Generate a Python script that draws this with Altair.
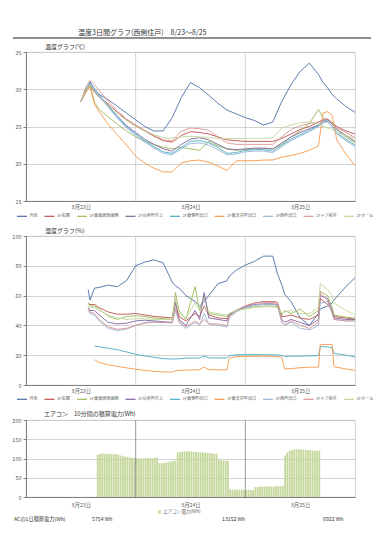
import json
import altair as alt
import pandas as pd

FONT = "Noto Sans CJK JP"
TXT = "#333333"
LBL = "#595959"

# ---------------- text ----------------
main_title = "温度3日間グラフ(西側住戸)　8/23～8/25"
temp_title = "温度グラフ(℃)"
hum_title = "湿度グラフ(%)"
ac_title = "エアコン　10分間の積算電力(Wh)"
ac_series = "エアコン電力(Wh)"
ac_total_label = "ACの1日積算電力(Wh)"
ac_daily_wh = [5754, 13152, 6922]

day_labels = ["8月23日", "8月24日", "8月25日"]
day_label_hours = [12, 36, 60]
day_bounds = [24, 48]

series = ["外気", "1F玄関", "1F東面居西面側", "2F台所吹付上", "2F東側吹出口",
          "2F東天井吹出口", "2F西吹出口", "2Fドア前手", "2Fホール"]
colors = ["#4A6FA5", "#C0504D", "#9BBB59", "#8064A2", "#4BACC6",
          "#F79646", "#95B3D7", "#D99694", "#C3D69B"]

# ---------------- temperature (hours from 8/23 0:00) ----------------
temp_hours = [12, 13, 14, 15, 16, 18, 20, 22, 24, 26, 28, 30, 32, 34, 36, 38, 40, 42,
              44, 46, 48, 50, 52, 54, 56, 58, 60, 62, 64, 65, 66, 67, 68, 70, 72]
t_outside = [28.3, 29.5, 31.0, 30.0, 29.3, 28.6, 27.7, 26.8, 25.9, 25.0, 24.4, 24.4, 26.2, 28.9, 30.9, 30.2, 29.2, 28.1,
             27.2, 26.7, 26.2, 25.8, 25.2, 25.6, 28.4, 30.6, 32.4, 33.5, 32.0, 30.9, 30.2, 29.3, 28.7, 27.7, 26.9]
t_entrance = [28.3, 29.8, 30.5, 29.6, 29.0, 28.0, 26.9, 25.9, 25.1, 24.4, 23.7, 23.1, 22.9, 23.8, 24.3, 24.2, 24.0, 23.6,
              23.2, 23.1, 23.0, 23.0, 23.0, 23.0, 23.4, 24.0, 24.6, 25.0, 25.6, 25.9, 26.0, 25.5, 25.0, 24.4, 24.0]
t_1f_east = [28.3, 29.8, 30.6, 28.2, 27.3, 26.3, 25.3, 24.4, 23.6, 23.0, 22.6, 22.2, 22.0, 22.2, 22.0, 21.8, 23.0, 22.4,
             22.0, 21.8, 21.9, 22.0, 22.0, 22.0, 22.6, 23.6, 24.4, 25.4, 27.3, 26.2, 25.8, 25.4, 24.6, 23.6, 22.8]
t_kitchen = [28.3, 29.9, 30.6, 29.8, 29.0, 27.7, 26.4, 25.1, 24.2, 23.3, 22.6, 22.0, 21.7, 22.6, 23.3, 23.5, 23.2, 22.6,
             22.0, 21.9, 22.0, 22.1, 22.1, 22.0, 22.8, 23.6, 24.2, 24.7, 25.2, 25.8, 25.9, 25.4, 24.6, 23.8, 23.0]
t_2f_east_out = [28.3, 30.0, 30.8, 30.1, 29.2, 27.8, 26.3, 25.0, 24.0, 23.1, 22.3, 21.6, 21.4, 22.2, 23.0, 23.1, 22.8, 22.2,
                 21.4, 21.5, 21.8, 21.9, 21.9, 21.7, 22.5, 23.3, 23.9, 24.5, 25.1, 25.6, 25.7, 25.1, 24.2, 23.3, 22.5]
t_2f_ceiling = [28.3, 29.5, 30.3, 28.0, 27.0, 25.3, 23.9, 22.5, 21.0, 20.1, 19.4, 18.9, 18.9, 20.1, 20.4, 20.5, 20.2, 19.7,
                19.1, 20.4, 20.4, 20.4, 20.5, 20.5, 20.9, 21.1, 21.4, 21.8, 22.4, 26.8, 27.0, 26.5, 23.2, 21.3, 19.8]
t_2f_west_out = [28.3, 30.0, 30.7, 30.0, 29.1, 27.6, 26.1, 24.8, 23.8, 22.9, 22.1, 21.4, 21.2, 22.0, 22.7, 22.8, 22.5, 21.9,
                 21.2, 21.3, 21.6, 21.7, 21.7, 21.5, 22.3, 23.1, 23.7, 24.3, 25.0, 25.5, 25.6, 25.0, 24.0, 23.1, 22.3]
t_2f_door = [28.3, 30.2, 31.2, 30.6, 29.8, 28.4, 27.1, 26.0, 25.2, 24.5, 23.8, 23.2, 23.1, 24.4, 24.8, 24.7, 24.5, 23.6,
             22.8, 22.6, 22.6, 22.6, 22.6, 22.6, 23.6, 24.6, 25.1, 25.4, 25.6, 25.9, 26.0, 25.4, 24.8, 24.2, 23.5]
t_2f_hall = [28.3, 29.8, 30.6, 29.8, 29.0, 27.8, 26.8, 25.8, 25.0, 24.4, 23.9, 23.5, 23.4, 23.6, 23.7, 23.6, 23.5, 23.4,
             23.4, 23.4, 23.4, 23.4, 23.4, 23.5, 24.8, 25.2, 25.5, 25.6, 25.3, 25.0, 24.8, 24.6, 24.2, 23.8, 23.4]

# ---------------- humidity ----------------
hum_hours = [13.6, 14, 15, 16, 18, 20, 22, 24, 26, 28, 30, 32, 32.7, 33.5, 35, 37, 38, 39, 40, 42,
             44, 44.5, 46, 48, 50, 52, 54, 55, 56, 56.6, 58, 60, 62, 64, 64.4, 66, 67, 67.4, 70, 72]
h_outside = [64, 57, 65, 65.5, 67, 66, 70, 80, 82.5, 84, 82, 69, 66.5, 65, 60, 56, 53, 56, 60, 68,
             70, 73, 77, 80.5, 83, 86.5, 86.5, 75, 67, 61, 56, 45, 40, 48, 51, 53, 55, 57, 66, 72]
h_entrance = [55, 54, 54, 52, 49, 47.5, 47.5, 48, 47, 46, 45.5, 45, 55, 46, 43, 48, 46, 53, 47, 45,
              44.5, 47, 50, 53, 55, 56, 56, 55.5, 46, 46, 47, 45, 44, 47, 58, 54, 50, 46, 45, 44]
h_1f_east = [55, 53, 53, 51, 46, 44, 46, 46.5, 46, 45, 44.5, 44, 62, 50, 44, 66, 50, 60, 48, 47,
             46, 48, 50, 51.5, 52.5, 53, 53, 52.5, 47, 50, 48, 51, 46, 50, 63, 60, 52, 47, 45.5, 45]
h_kitchen = [52, 50, 50, 47, 42, 41, 41.5, 43, 43.5, 43, 42.5, 42, 56, 44, 40, 50, 44, 62, 45, 44,
             43, 47, 50, 52.5, 54, 54.5, 54.5, 54, 44, 42, 44, 42, 40, 44, 60, 58, 50, 45, 44, 44]
h_2f_east_out = [None, None, 26.3, 25.7, 24.6, 23.7, 22.2, 20.6, 19.5, 18.6, 17.7, 17.4, 17.5, 17.6, 18.0, 18.1, 18.1, 19.5, 18.2, 18.1,
                 18.1, 19.6, 20.3, 20.4, 20.4, 20.3, 20.3, 20.2, 19.8, 19.2, 19.3, 19.4, 19.5, 19.8, 25.8, 25.5, 25.0, 21.3, 20.0, 18.8]
h_2f_ceiling = [None, None, 17.0, 15.2, 13.5, 12.5, 11.5, 10.6, 9.8, 9.1, 8.8, 8.7, 9.6, 9.9, 10.0, 10.2, 10.3, 12.0, 10.3, 10.2,
                10.2, 18.0, 19.1, 19.2, 19.2, 19.3, 19.2, 19.0, 18.6, 10.8, 11.0, 11.6, 11.9, 12.0, 27.0, 27.3, 27.2, 12.3, 10.8, 9.8]
h_2f_west_out = [50, 48, 47, 43, 38, 36.5, 37.5, 40, 42, 42.5, 42, 41.5, 50, 42, 38, 42, 40, 48, 41, 40,
                 39, 45, 49, 52, 53.5, 54, 54, 53.5, 42, 40, 42, 38, 37, 40, 55, 56, 48, 44, 43, 43]
h_2f_door = [51, 49, 48, 44, 39, 37.5, 38, 40, 41.5, 42, 42, 42, 52, 43, 39, 43, 41, 44, 41, 41,
             40, 46, 50, 53, 55, 55.5, 55.5, 55, 42, 40, 43, 40, 38, 42, 62, 57, 49, 44, 43, 43]
h_2f_hall = [53, 52, 52, 50, 47, 45, 44, 44.5, 44.5, 44, 44, 44, 58, 48, 45, 55, 50, 52, 49, 48,
             47, 48, 50, 51, 52, 52.5, 52.5, 52, 48, 49, 50, 48, 48, 52, 68, 64, 60, 55, 50, 47]

# ---------------- A/C energy per interval (Wh), 30-min steps ----------------
ac_first_hour = 15.5
ac_step_hours = 0.5
ac_wh = [110, 112, 113, 113, 112, 112, 112, 111, 111, 110, 108,
         106, 105, 104, 103, 102, 101,
         101, 100, 100, 100, 100, 101, 101, 101, 102, 102,
         88, 88, 89, 90, 91, 92, 93, 95,
         116, 117, 118, 118, 119, 119, 118, 117, 117, 116, 116, 116, 115, 115, 114, 113, 112, 112,
         96, 95, 95, 94, 94,
         20, 19, 19, 19, 19, 19, 19, 19, 19, 18, 18,
         26, 26, 27, 27, 27, 27, 27, 27, 27, 28, 28, 28, 29,
         108, 116, 120, 122, 123, 124, 124, 124, 123, 122, 122, 121, 121, 120, 120, 120]

# ---------------- tables ----------------
temp_lists = [t_outside, t_entrance, t_1f_east, t_kitchen, t_2f_east_out,
              t_2f_ceiling, t_2f_west_out, t_2f_door, t_2f_hall]
hum_lists = [h_outside, h_entrance, h_1f_east, h_kitchen, h_2f_east_out,
             h_2f_ceiling, h_2f_west_out, h_2f_door, h_2f_hall]


def long_df(hours, lists):
    rows = []
    for i, (name, vals) in enumerate(zip(series, lists)):
        assert len(vals) == len(hours), name
        for h, v in zip(hours, vals):
            if v is not None:
                rows.append({"h": h, "v": v, "series": name, "order": i})
    return pd.DataFrame(rows)


temp_df = long_df(temp_hours, temp_lists)
hum_df = long_df(hum_hours, hum_lists)
ac_df = pd.DataFrame({"h": [ac_first_hour + ac_step_hours * i for i in range(len(ac_wh))], "wh": ac_wh})
ac_df["t1"] = ac_df["h"] + ac_step_hours * 0.78
ac_df["base"] = 0
ac_df["name"] = ac_series
bounds_df = pd.DataFrame({"h": day_bounds})

label_expr = json.dumps(day_labels, ensure_ascii=False) + "[floor(datum.value/24)]"

PLOT_W = 329


def x_enc(pad):
    return alt.X("h:Q", scale=alt.Scale(domain=[0, 72], nice=False, zero=False),
                 axis=alt.Axis(values=day_label_hours, labelExpr=label_expr, title=None, grid=False,
                               ticks=False, domainColor="#7f7f7f", labelFont=FONT, labelFontSize=5.2,
                               labelColor=LBL, labelPadding=pad))


def y_enc(field, domain, vals):
    return alt.Y(field, scale=alt.Scale(domain=domain, nice=False, zero=False),
                 axis=alt.Axis(values=vals, title=None, grid=True, gridColor="#c8c8c8", gridWidth=0.8,
                               tickSize=3, tickColor="#7f7f7f", domainColor="#7f7f7f", labelFont=FONT,
                               labelFontSize=5.5, labelColor=LBL, labelPadding=2,
                               minExtent=17, maxExtent=17))


def series_legend(ly):
    return alt.Legend(title=None, orient="none", legendX=-10, legendY=ly, direction="horizontal",
                      columns=9, symbolType="stroke", symbolSize=100, symbolStrokeWidth=1.2,
                      labelFont=FONT, labelFontSize=4.1, labelColor=LBL, labelOffset=1.5,
                      columnPadding=3.5, padding=0)


def text_layer(text, x, y, size, color=TXT):
    return alt.Chart(pd.DataFrame({"t": [text]})).mark_text(
        font=FONT, fontSize=size, align="left", baseline="middle", color=color
    ).encode(text="t:N", x=alt.value(x), y=alt.value(y))


def line_panel(df, domain, yvals, subtitle, ly, extra=None):
    rules = alt.Chart(bounds_df).mark_rule(color="#c8c8c8", strokeWidth=0.8).encode(x=x_enc(3))
    lines = alt.Chart(df).mark_line(strokeWidth=0.9).encode(
        x=x_enc(3),
        y=y_enc("v:Q", domain, yvals),
        color=alt.Color("series:N", scale=alt.Scale(domain=series, range=colors), sort=series,
                        legend=series_legend(ly)),
        order="order:Q",
        detail="series:N",
    )
    layers = [rules, lines, text_layer(subtitle, 19, -5, 6)]
    if extra:
        layers += extra
    return alt.layer(*layers).properties(width=PLOT_W, height=149)


head = [
    text_layer(main_title, 52, -19, 7),
    alt.Chart(pd.DataFrame({"a": [0]})).mark_rule(color="#222222", strokeWidth=1.2).encode(
        x=alt.value(-13), x2=alt.value(345), y=alt.value(-14)),
]

c1 = line_panel(temp_df, [15, 35], [15, 20, 25, 30, 35], temp_title, 158, head)
c2 = line_panel(hum_df, [0, 100], [0, 20, 40, 60, 80, 100], hum_title, 157)

bars = alt.Chart(ac_df).mark_rect(opacity=1).encode(
    x=x_enc(5),
    x2="t1:Q",
    y=y_enc("wh:Q", [0, 200], [0, 50, 100, 150, 200]),
    y2="base:Q",
    color=alt.Color("name:N", scale=alt.Scale(domain=[ac_series], range=["#C4D79B"]),
                    legend=alt.Legend(title=None, orient="none", legendX=131, legendY=89.5,
                                      symbolType="square", symbolSize=9, labelFont=FONT,
                                      labelFontSize=4.6, labelColor=LBL, labelOffset=1, padding=0)),
)
ac_rules = alt.Chart(bounds_df).mark_rule(color="#7f7f7f", strokeWidth=0.8).encode(x=x_enc(5))
totals = [text_layer(ac_total_label, -12, 99, 5.2)]
for xpos, v in zip([66, 196, 297], ac_daily_wh):
    totals.append(text_layer(f"{v} Wh", xpos, 99, 5.2))

c3 = alt.layer(bars, ac_rules, text_layer(ac_title, 18, -6, 6), *totals).properties(
    width=PLOT_W, height=77)

chart = alt.vconcat(c1, c2, c3, spacing=7).resolve_scale(color="independent").configure_view(
    stroke="#c8c8c8", strokeWidth=0.8
).properties(
    padding={"top": 20, "left": 0, "right": 0, "bottom": 0},
    background="white",
)

chart.save("out.html", embed_options={"renderer": "svg", "actions": False})
